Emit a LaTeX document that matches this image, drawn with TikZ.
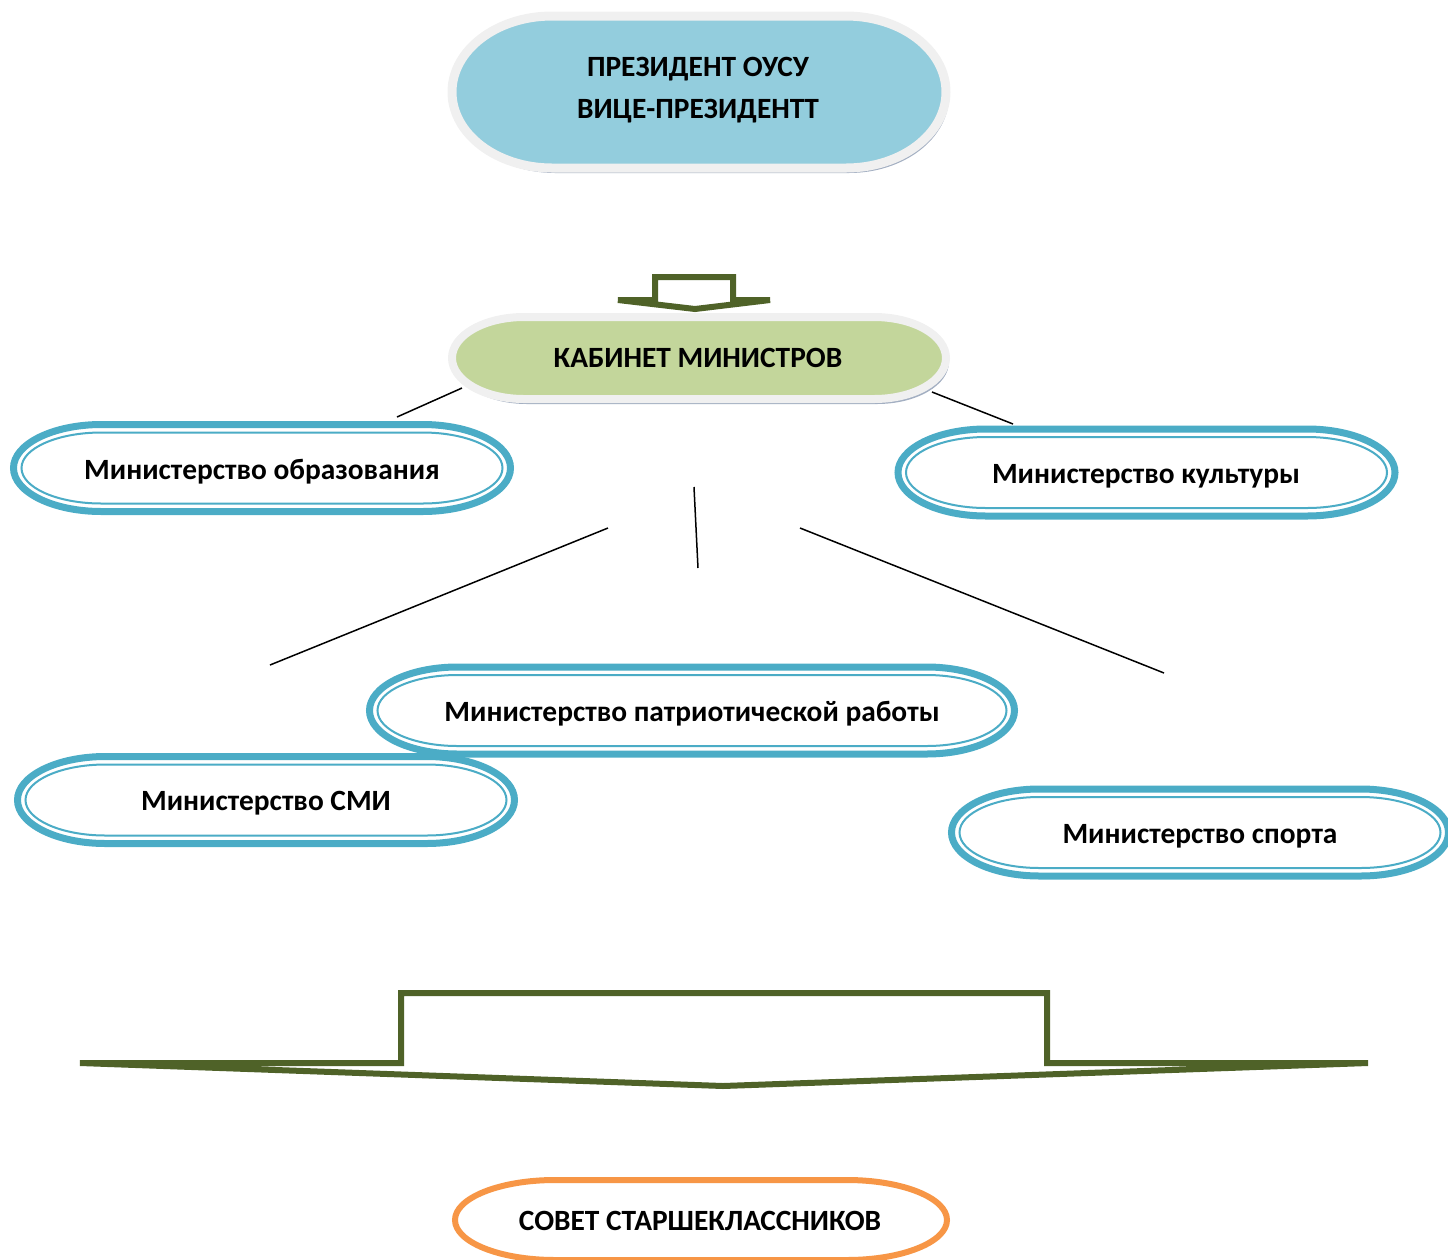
\documentclass[tikz,border=0pt]{standalone}
\usepackage{fontspec}
\setmainfont{Carlito}
\definecolor{presblue}{HTML}{93CDDD}
\definecolor{cabgreen}{HTML}{C3D69B}
\definecolor{minblue}{HTML}{4BACC6}
\definecolor{sovorange}{HTML}{F79646}
\definecolor{olive}{HTML}{4F6228}
\definecolor{ringgray}{HTML}{F0F0F0}
\definecolor{shadowgray}{HTML}{A3AFC2}
% stadium: style, cx, cy, half width, half height, end x-radius
\newcommand{\stadium}[6]{%
  \path[#1] ({(#2)-(#4)+(#6)},{(#3)-(#5)}) -- ({(#2)+(#4)-(#6)},{(#3)-(#5)})
    arc[start angle=-90,end angle=90,x radius={#6},y radius={#5}]
    -- ({(#2)-(#4)+(#6)},{(#3)+(#5)})
    arc[start angle=90,end angle=270,x radius={#6},y radius={#5}] -- cycle;}
\newcommand{\minframe}[4]{% cx, cy, half width, half height
  \stadium{draw=minblue,line width=3.5pt,fill=white}{#1}{#2}{#3}{#4}{88}%
  \stadium{draw=minblue,line width=1pt}{#1}{#2}{#3-8}{#4-8}{80}}
\tikzset{
  lbl/.style={font=\bfseries\fontsize{14.7pt}{21pt}\selectfont,inner sep=0pt,align=center,text height=9.5pt,text depth=0pt},
  link/.style={draw=black,line width=0.75pt},
  bigarrow/.style={draw=olive,line width=3pt,line join=miter,fill=white},
}
\begin{document}
\begin{tikzpicture}[x=0.5pt,y=-0.5pt]
\useasboundingbox (0,0) rectangle (1448,1260);
% President
\stadium{fill=shadowgray}{702}{96}{247}{77}{100}
\stadium{draw=ringgray,line width=4.5pt,fill=presblue}{699}{92}{247}{76}{100}
\node[lbl] (pres1) at (698,67) {ПРЕЗИДЕНТ ОУСУ};
\node[lbl] (pres2) at (698,109) {ВИЦЕ-ПРЕЗИДЕНТТ};
% small arrow
\coordinate (sa1) at (655,277);
\coordinate (sa2) at (733,277);
\coordinate (satip) at (695,309);
\path[bigarrow] (sa1) -- (sa2) -- (733,300) -- (770,300) -- (satip) -- (618,300) -- (655,300) -- cycle;
% Cabinet
\stadium{fill=shadowgray}{702}{362}{247}{42}{72}
\stadium{draw=ringgray,line width=4pt,fill=cabgreen}{699}{358}{247}{41}{72}
\node[lbl] (cab) at (698,358) {КАБИНЕТ МИНИСТРОВ};
% Ministries
\minframe{262}{468}{248.5}{43.5}
\node[lbl] (mobr) at (262,470) {Министерство образования};
\minframe{1146.5}{472.5}{248.5}{43.5}
\node[lbl] (mkult) at (1146,474) {Министерство культуры};
\minframe{692}{710.5}{322.5}{43.5}
\node[lbl] (mpatr) at (692,712) {Министерство патриотической работы};
\minframe{266}{800}{248.5}{43.5}
\node[lbl] (msmi) at (266,801) {Министерство СМИ};
\minframe{1200}{832.5}{248.5}{43.5}
\node[lbl] (msport) at (1200,834) {Министерство спорта};
% lines
\coordinate (l1a) at (397,417); \coordinate (l1b) at (462,388);
\coordinate (l2a) at (932,392); \coordinate (l2b) at (1013,424);
\coordinate (l3a) at (694,487); \coordinate (l3b) at (698,568);
\coordinate (l4a) at (608,528); \coordinate (l4b) at (270,665);
\coordinate (l5a) at (800,528); \coordinate (l5b) at (1164,673);
\draw[link] (l1a) -- (l1b);
\draw[link] (l2a) -- (l2b);
\draw[link] (l3a) -- (l3b);
\draw[link] (l4a) -- (l4b);
\draw[link] (l5a) -- (l5b);
% big arrow
\coordinate (ba1) at (401,993);
\coordinate (ba2) at (1047,993);
\coordinate (batip) at (723,1086);
\path[bigarrow] (ba1) -- (ba2) -- (1047,1063) -- (1368,1063) -- (batip) -- (80,1063) -- (401,1063) -- cycle;
% Sovet
\stadium{draw=sovorange,line width=3pt,fill=white}{701}{1220}{246}{40}{100}
\node[lbl] (sovet) at (700,1221) {СОВЕТ СТАРШЕКЛАССНИКОВ};
\end{tikzpicture}
\end{document}
